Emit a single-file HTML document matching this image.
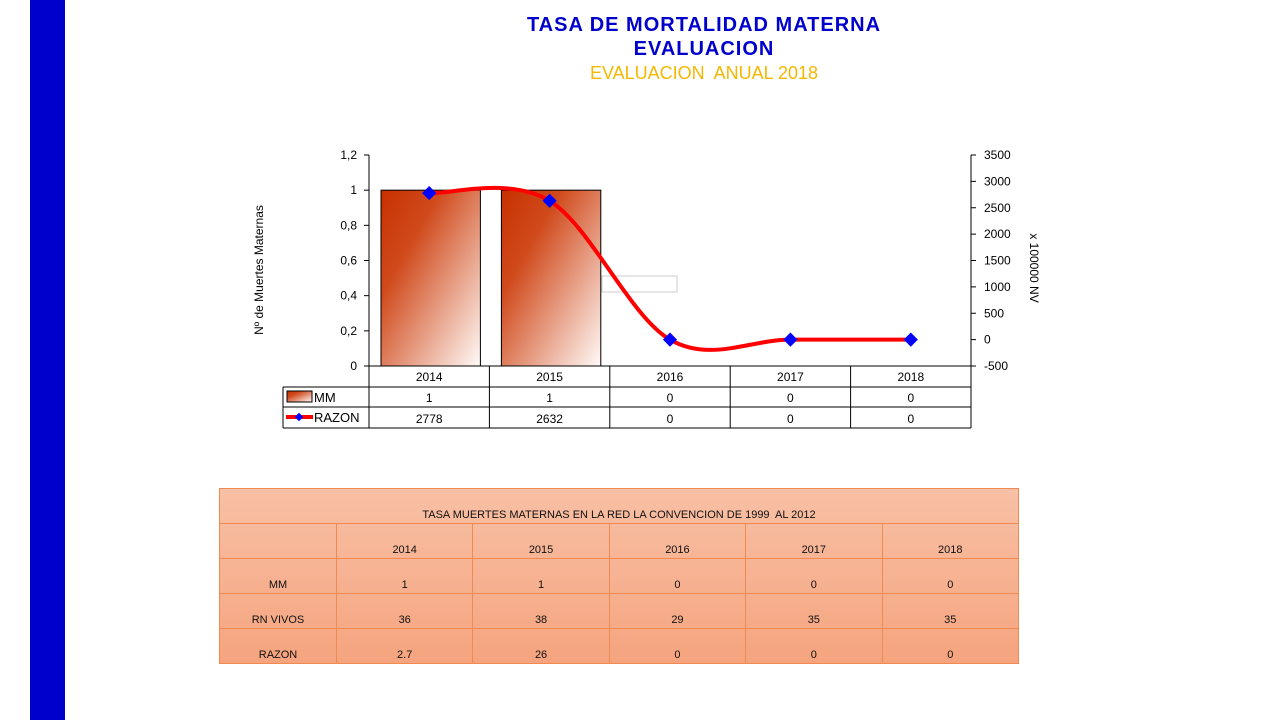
<!DOCTYPE html>
<html><head><meta charset="utf-8"><style>
body{margin:0;width:1280px;height:720px;background:#fff;position:relative;overflow:hidden;font-family:"Liberation Sans",sans-serif}
.t{position:absolute;left:404px;width:600px;text-align:center}
table.b{position:absolute;left:219px;top:488px;width:800px;height:175px;border-collapse:collapse;background:linear-gradient(#f8c0a5,#f5a47e);font-size:11px;color:#111}
table.b td{border:1px solid #f08a50;text-align:center;vertical-align:bottom;padding:0 0 2px 0}
</style></head><body>
<div style="position:absolute;left:30px;top:0;width:35px;height:720px;background:#0000cc"></div>
<div class="t" style="top:14px;font-size:20px;font-weight:bold;color:#0000cc;letter-spacing:1px">TASA DE MORTALIDAD MATERNA</div>
<div class="t" style="top:38px;font-size:20px;font-weight:bold;color:#0000cc;letter-spacing:1px">EVALUACION</div>
<div class="t" style="top:63px;font-size:18px;color:#f5b800">EVALUACION&nbsp; ANUAL 2018</div>
<svg id="c" width="1280" height="720" style="position:absolute;left:0;top:0">
<defs><linearGradient id="g" x1="0" y1="0" x2="1" y2="1"><stop offset="0" stop-color="#c83000"/><stop offset="0.3" stop-color="#d04a1c"/><stop offset="1" stop-color="#fffaf8"/></linearGradient></defs>
</svg>
<table class="b">
<tr style="height:35px"><td colspan="6">TASA MUERTES MATERNAS EN LA RED LA CONVENCION DE 1999&nbsp; AL 2012</td></tr>
<tr style="height:35px"><td style="width:116px"></td><td>2014</td><td>2015</td><td>2016</td><td>2017</td><td>2018</td></tr>
<tr style="height:35px"><td>MM</td><td>1</td><td>1</td><td>0</td><td>0</td><td>0</td></tr>
<tr style="height:35px"><td>RN VIVOS</td><td>36</td><td>38</td><td>29</td><td>35</td><td>35</td></tr>
<tr style="height:35px"><td>RAZON</td><td>2.7</td><td>26</td><td>0</td><td>0</td><td>0</td></tr>
</table>
<script>
const categories=["2014","2015","2016","2017","2018"];
const mm=[1,1,0,0,0];
const razon=[2778,2632,0,0,0];
const leftTicks=[0,0.2,0.4,0.6,0.8,1,1.2];
const leftLabels=["0","0,2","0,4","0,6","0,8","1","1,2"];
const rightTicks=[-500,0,500,1000,1500,2000,2500,3000,3500];
const svg=document.getElementById('c');const NS="http://www.w3.org/2000/svg";
function mk(t,a,p){const e=document.createElementNS(NS,t);for(const k in a)e.setAttribute(k,a[k]);(p||svg).appendChild(e);return e;}
const X0=369,X1=971,Y0=366,Y1=155,cw=(X1-X0)/categories.length;
const yL=v=>Y0-(v/1.2)*(Y0-Y1);
const yR=v=>Y0-((v+500)/4000)*(Y0-Y1);
const xc=i=>X0+cw*(i+0.5);
// axes
let e=mk('line',{x1:X0,y1:Y1,x2:X0,y2:Y0,stroke:'#000'});

e=mk('line',{x1:X1,y1:Y1,x2:X1,y2:Y0,stroke:'#000'});

leftTicks.forEach((v,i)=>{const y=yL(v);mk('line',{x1:X0-5,y1:y,x2:X0,y2:y,stroke:'#000'});
const t=mk('text',{x:X0-12,y:y+4,'text-anchor':'end','font-size':12});t.textContent=leftLabels[i];
});
rightTicks.forEach(v=>{const y=yR(v);mk('line',{x1:X1,y1:y,x2:X1+5,y2:y,stroke:'#000'});
const t=mk('text',{x:X1+13,y:y+4,'font-size':12});t.textContent=v;
});
e=mk('text',{x:0,y:0,'font-size':12,'text-anchor':'middle',transform:'translate(263,270) rotate(-90)'});e.textContent='Nº de Muertes Maternas';

e=mk('text',{x:0,y:0,'font-size':12,'text-anchor':'middle',transform:'translate(1030,268) rotate(90)'});e.textContent='x 100000 NV';

// small box
mk('rect',{x:602,y:276,width:75,height:16,fill:'#fff',stroke:'#ccc'});
// bars
mm.forEach((v,i)=>{if(v<=0)return;const y=yL(v);const b=mk('rect',{x:X0+12+cw*i,y:y,width:cw-21,height:Y0-y,fill:'url(#g)',stroke:'#000'});
});
// smooth line (Catmull-Rom)
const P=razon.map((v,i)=>[xc(i),yR(v)]);
let d='M'+P[0][0]+','+P[0][1];
for(let i=0;i<P.length-1;i++){const p0=P[Math.max(i-1,0)],p1=P[i],p2=P[i+1],p3=P[Math.min(i+2,P.length-1)];
d+=` C${p1[0]+(p2[0]-p0[0])/6},${p1[1]+(p2[1]-p0[1])/6} ${p2[0]-(p3[0]-p1[0])/6},${p2[1]-(p3[1]-p1[1])/6} ${p2[0]},${p2[1]}`;}
e=mk('path',{d:d,fill:'none',stroke:'#ff0000','stroke-width':4});

P.forEach((p,i)=>{const m=mk('rect',{x:p[0]-5,y:p[1]-5,width:10,height:10,fill:'#0000ff',transform:`rotate(45 ${p[0]} ${p[1]})`});
});
// data table
const rows=[366,387,407,428];
mk('line',{x1:X0,y1:Y0,x2:X1,y2:Y0,stroke:'#000'});
mk('line',{x1:283,y1:rows[1],x2:X1,y2:rows[1],stroke:'#000'});
mk('line',{x1:283,y1:rows[2],x2:X1,y2:rows[2],stroke:'#000'});
mk('line',{x1:283,y1:rows[3],x2:X1,y2:rows[3],stroke:'#000'});
mk('line',{x1:283,y1:rows[1],x2:283,y2:rows[3],stroke:'#000'});
for(let i=0;i<=categories.length;i++)mk('line',{x1:X0+cw*i,y1:Y0,x2:X0+cw*i,y2:rows[3],stroke:'#000'});
categories.forEach((c,i)=>{
let t=mk('text',{x:xc(i),y:381,'text-anchor':'middle','font-size':12});t.textContent=c;

t=mk('text',{x:xc(i),y:402,'text-anchor':'middle','font-size':12});t.textContent=mm[i];

t=mk('text',{x:xc(i),y:423,'text-anchor':'middle','font-size':12});t.textContent=razon[i];
});
mk('rect',{x:287,y:391,width:25,height:11,fill:'url(#g)',stroke:'#000'});
e=mk('text',{x:314,y:402,'font-size':13});e.textContent='MM';

mk('line',{x1:286,y1:417,x2:313,y2:417,stroke:'#f00','stroke-width':4});
mk('rect',{x:296,y:414,width:6,height:6,fill:'#00f',transform:'rotate(45 299 417)'});
e=mk('text',{x:314,y:422,'font-size':13});e.textContent='RAZON';

</script>
</body></html>
